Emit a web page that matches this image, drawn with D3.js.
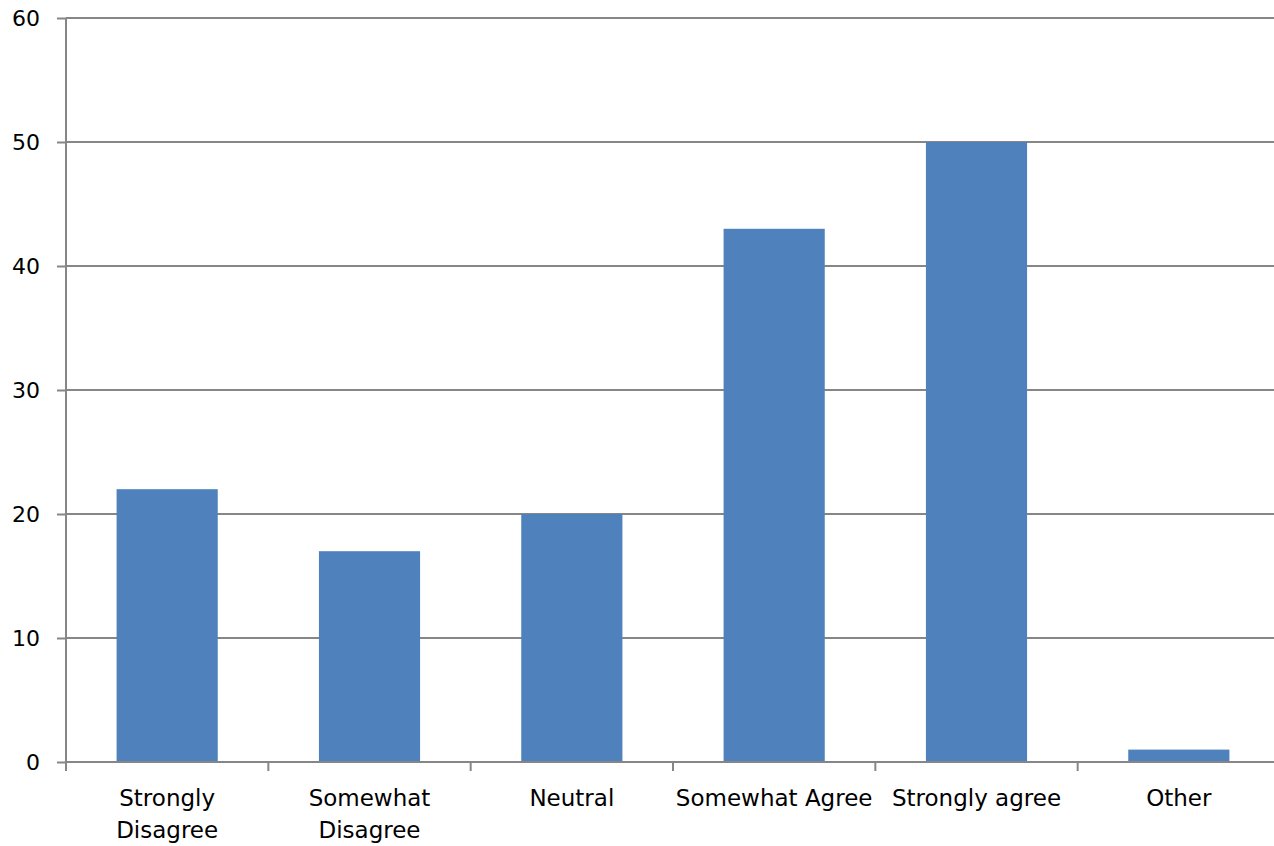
<!DOCTYPE html>
<html>
<head>
<meta charset="utf-8">
<script src="https://cdn.jsdelivr.net/npm/d3@7"></script>
<style>
  html, body { margin: 0; padding: 0; background: #fff; }
  svg { display: block; }
  text { font-family: "DejaVu Sans", sans-serif; fill: #000; }
</style>
</head>
<body>
<svg id="chart" width="1274" height="846"></svg>
<script>
// Survey responses
const categories = ["Strongly Disagree", "Somewhat Disagree", "Neutral", "Somewhat Agree", "Strongly agree", "Other"];
const counts = [22, 17, 20, 43, 50, 1];
const yTicks = [0, 10, 20, 30, 40, 50, 60];

const svg = d3.select("#chart");
const margin = { left: 66, right: -6, top: 18, bottom: 84 };
const W = 1274, H = 846;

const x = d3.scaleBand()
  .domain(categories)
  .range([margin.left, W - margin.right])
  .paddingInner(0.5)
  .paddingOuter(0.25);

const y = d3.scaleLinear()
  .domain([0, 60])
  .range([H - margin.bottom, margin.top]);

const gridColor = "#868686";

// Value axis: tick stubs on the left, labels right-aligned
const yAxis = svg.append("g")
  .attr("transform", `translate(${margin.left},0)`)
  .call(d3.axisLeft(y).tickValues(yTicks).tickSize(9).tickPadding(17).tickFormat(d3.format("d")));
yAxis.select(".domain").remove();
yAxis.selectAll(".tick line").attr("stroke", gridColor).attr("stroke-width", 2);
yAxis.selectAll(".tick text")
  .attr("font-size", 22)
  .attr("font-family", "DejaVu Sans, sans-serif")
  .attr("fill", "#000");

// Horizontal gridlines
svg.append("g").selectAll("line")
  .data(yTicks.filter(d => d > 0))
  .join("line")
  .attr("x1", margin.left).attr("x2", W - margin.right)
  .attr("y1", d => y(d)).attr("y2", d => y(d))
  .attr("stroke", gridColor).attr("stroke-width", 2);

// Bars
svg.append("g").selectAll("rect")
  .data(categories)
  .join("rect")
  .attr("x", d => x(d))
  .attr("width", x.bandwidth())
  .attr("y", (d, i) => y(counts[i]))
  .attr("height", (d, i) => y(0) - y(counts[i]))
  .attr("fill", "#4F81BD");

// Vertical axis line
svg.append("line")
  .attr("x1", margin.left).attr("x2", margin.left)
  .attr("y1", y(60)).attr("y2", y(0))
  .attr("stroke", gridColor).attr("stroke-width", 2);

// Category axis: baseline, tick marks at band boundaries, wrapped labels
const step = x.step();
const x0 = x.range()[0];
const bounds = d3.range(categories.length + 1).map(i => x0 + i * step);

svg.append("line")
  .attr("x1", margin.left).attr("x2", W - margin.right)
  .attr("y1", y(0)).attr("y2", y(0))
  .attr("stroke", gridColor).attr("stroke-width", 2);

svg.append("g").selectAll("line")
  .data(bounds)
  .join("line")
  .attr("x1", d => d).attr("x2", d => d)
  .attr("y1", y(0)).attr("y2", y(0) + 9)
  .attr("stroke", gridColor).attr("stroke-width", 2);

const labelSize = 23;
const labels = svg.append("g").selectAll("text")
  .data(categories)
  .join("text")
  .attr("text-anchor", "middle")
  .attr("font-size", labelSize)
  .attr("x", d => x(d) + x.bandwidth() / 2)
  .attr("y", y(0) + 44);

labels.each(function(d) {
  const t = d3.select(this);
  const cx = +t.attr("x");
  const words = d.split(" ");
  let lines = [d];
  // wrap onto two lines when the label is wider than its band
  t.text(d);
  if (this.getComputedTextLength() > step - 2 && words.length > 1) {
    lines = [words.slice(0, -1).join(" "), words[words.length - 1]];
  }
  t.text(null);
  lines.forEach((ln, i) => {
    t.append("tspan").attr("x", cx).attr("dy", i === 0 ? 0 : 32).text(ln);
  });
});
</script>
</body>
</html>
